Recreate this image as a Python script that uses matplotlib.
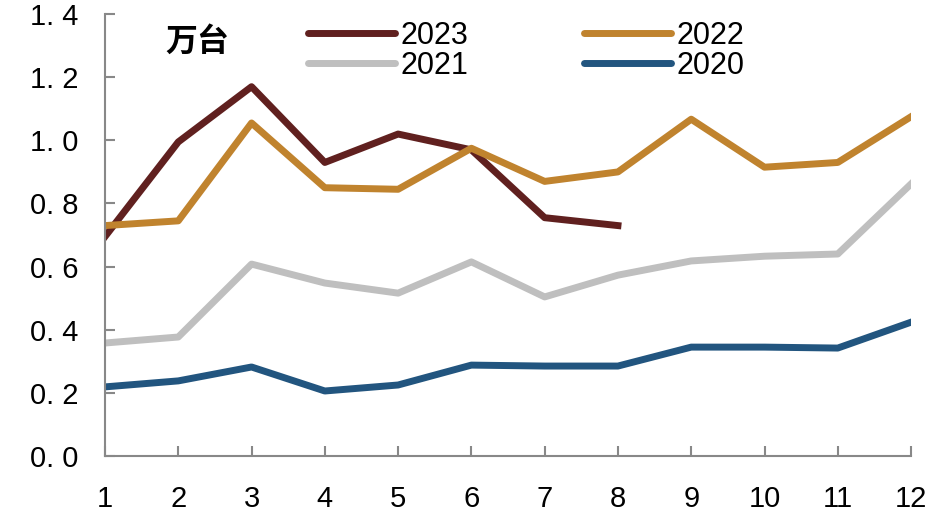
import matplotlib.pyplot as plt
from matplotlib.ticker import FuncFormatter

plt.rcParams['font.family'] = ['Liberation Sans', 'Noto Sans CJK SC']

months = list(range(1, 13))
y2023 = [0.695, 0.995, 1.17, 0.93, 1.02, 0.97, 0.755, 0.73]
y2022 = [0.73, 0.745, 1.055, 0.85, 0.845, 0.975, 0.87, 0.90, 1.067, 0.915, 0.93, 1.075]
y2021 = [0.358, 0.377, 0.608, 0.548, 0.516, 0.615, 0.504, 0.573, 0.618, 0.633, 0.64, 0.862]
y2020 = [0.219, 0.238, 0.282, 0.206, 0.225, 0.288, 0.285, 0.285, 0.345, 0.345, 0.342, 0.424]

colors = {'2023': '#60201F', '2022': '#C0832E', '2021': '#BFBFBF', '2020': '#22557F'}

fig = plt.figure(figsize=(9.51, 5.22), dpi=100)
ax = fig.add_axes([0.1104, 0.1264, 0.8476, 0.8466])

lw = 5
l20, = ax.plot(months, y2020, color=colors['2020'], lw=lw, label='2020')
l21, = ax.plot(months, y2021, color=colors['2021'], lw=lw, label='2021')
l23, = ax.plot(months[:len(y2023)], y2023, color=colors['2023'], lw=lw, label='2023')
l22, = ax.plot(months, y2022, color=colors['2022'], lw=lw, label='2022')

ax.set_xlim(1, 12)
ax.set_ylim(0, 1.4)
ax.set_xticks(months)
ax.set_yticks([0, 0.2, 0.4, 0.6, 0.8, 1.0, 1.2, 1.4])
ax.yaxis.set_major_formatter(FuncFormatter(lambda v, p: f'{v:.1f}'.replace('.', '. ')))

for s in ['top', 'right']:
    ax.spines[s].set_visible(False)
for s in ['left', 'bottom']:
    ax.spines[s].set_color('#888888')
    ax.spines[s].set_linewidth(1.5)
ax.tick_params(direction='in', length=7, width=1.5, color='#888888', labelsize=21)
ax.tick_params(axis='y', pad=19)
ax.tick_params(axis='x', pad=21)

# unit label
fig.text(165 / 951, 1 - 42 / 522, '万台', fontsize=23, fontweight='bold',
         family='Noto Sans CJK SC', va='center', ha='left')

leg = fig.legend(handles=[l23, l21, l22, l20], ncol=2, loc='upper left',
                 bbox_to_anchor=(308 / 951, 1 - 21 / 522), frameon=False, fontsize=22,
                 handlelength=2.85, handletextpad=0.17, columnspacing=3.8,
                 labelspacing=0.0, borderpad=0, borderaxespad=0)
for h in leg.get_lines():
    h.set_solid_capstyle('round')
    h.set_linewidth(5)

fig.savefig('out.png', dpi=100)
